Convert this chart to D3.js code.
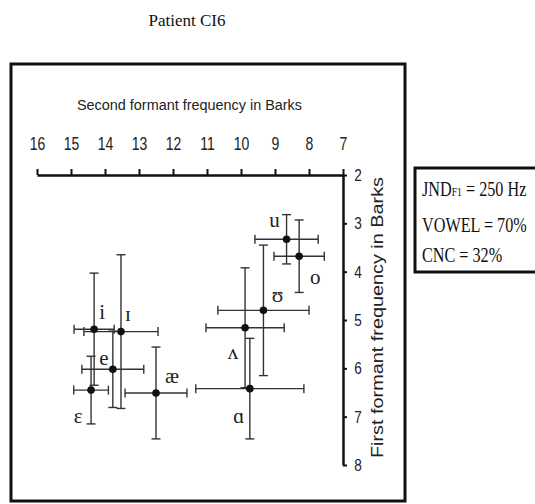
<!DOCTYPE html>
<html lang="en">
<head>
    <meta charset="UTF-8">
    <title>Patient CI6</title>
    <script src="https://d3js.org/d3.v7.min.js"></script>
    <style>
        body {
            margin: 0;
            background: #fff;
        }
        .serif {
            font-family: "Liberation Serif", "DejaVu Serif", serif;
        }
        .sans {
            font-family: "Liberation Sans", Arial, sans-serif;
        }
    </style>
</head>
<body>

<svg id="chart" width="535" height="504"></svg>

<script>
    // vowel symbols and their mean formants (Barks) with error bar half-widths
    const vowels = ["i", "\u026A", "e", "\u025B", "\u00E6", "u", "o", "\u028A", "\u028C", "\u0251"];
    const f2 = [14.32, 13.53, 13.77, 14.41, 12.5, 8.66, 8.29, 9.34, 9.88, 9.74];
    const f2err = [0.59, 1.09, 0.91, 0.51, 0.91, 0.93, 0.74, 1.34, 1.15, 1.59];
    const f1 = [5.19, 5.24, 6.02, 6.45, 6.51, 3.33, 3.68, 4.80, 5.16, 6.42];
    const f1err = [1.16, 1.59, 0.79, 0.70, 0.95, 0.51, 0.75, 1.35, 1.24, 1.04];

    const xTicks = [16, 15, 14, 13, 12, 11, 10, 9, 8, 7];
    const yTicks = [2, 3, 4, 5, 6, 7, 8];

    const legendMain = ["JND", "VOWEL = 70%", "CNC = 32%"];
    const legendSub = ["F1", "", ""];
    const legendRest = [" = 250 Hz", "", ""];

    // label placement relative to each point (px)
    const labelOffset = [[8, -16], [7, -17], [-9, -11], [-13, 27], [16, -16],
                         [-12, -19], [16, 21], [14, -15], [-12, 25], [-11, 28]];

    const data = vowels.map((v, i) => ({
        v: v, x: f2[i], xe: f2err[i], y: f1[i], ye: f1err[i], off: labelOffset[i]
    }));

    const svg = d3.select("#chart");

    const x = d3.scaleLinear().domain([16, 7]).range([37, 343]);
    const y = d3.scaleLinear().domain([2, 8]).range([175, 465]);

    // title
    svg.append("text")
        .attr("class", "serif")
        .attr("x", 187)
        .attr("y", 26)
        .attr("text-anchor", "middle")
        .attr("font-size", "17px")
        .attr("fill", "#111")
        .text("Patient CI6");

    // outer frame
    svg.append("rect")
        .attr("x", 11).attr("y", 64)
        .attr("width", 394).attr("height", 437)
        .attr("fill", "none")
        .attr("stroke", "#111")
        .attr("stroke-width", 3);

    // x axis (top)
    const xAxis = svg.append("g")
        .attr("transform", `translate(0,175)`)
        .call(d3.axisTop(x).tickValues(xTicks).tickSize(6).tickSizeOuter(0).tickFormat(d3.format("d")));
    xAxis.select(".domain").attr("stroke", "#111").attr("stroke-width", 2.5);
    xAxis.selectAll(".tick line").attr("stroke", "#111").attr("stroke-width", 2);
    xAxis.selectAll(".tick text")
        .attr("font-family", "Liberation Sans, Arial, sans-serif")
        .attr("font-size", "18px")
        .attr("fill", "#222")
        .attr("y", 0)
        .attr("dy", 0)
        .attr("transform", "translate(0,-25) scale(0.78,1)");

    // y axis (right)
    const yAxis = svg.append("g")
        .attr("transform", `translate(343,0)`)
        .call(d3.axisRight(y).tickValues(yTicks).tickSize(4).tickSizeOuter(0).tickFormat(d3.format("d")));
    yAxis.select(".domain").attr("stroke", "#111").attr("stroke-width", 2.5);
    yAxis.selectAll(".tick line").attr("stroke", "#111").attr("stroke-width", 2);
    yAxis.selectAll(".tick text")
        .attr("font-family", "Liberation Sans, Arial, sans-serif")
        .attr("font-size", "17px")
        .attr("fill", "#222")
        .attr("x", 0)
        .attr("text-anchor", "middle")
        .attr("transform", "translate(15,0) scale(0.8,1)");

    // axis titles
    svg.append("text")
        .attr("class", "sans")
        .attr("x", 77)
        .attr("y", 110)
        .attr("font-size", "14px")
        .attr("textLength", 225)
        .attr("lengthAdjust", "spacingAndGlyphs")
        .attr("fill", "#222")
        .text("Second formant frequency in Barks");

    svg.append("text")
        .attr("class", "sans")
        .attr("transform", `translate(383,458) rotate(-90)`)
        .attr("font-size", "16.5px")
        .attr("textLength", 281)
        .attr("lengthAdjust", "spacingAndGlyphs")
        .attr("fill", "#222")
        .text("First formant frequency in Barks");

    // error bars
    const cap = 4.5;
    const bars = svg.append("g")
        .attr("stroke", "#333")
        .attr("stroke-width", 1.4)
        .attr("fill", "none");

    data.forEach(d => {
        const cx = x(d.x), cy = y(d.y);
        const x0 = x(d.x + d.xe), x1 = x(d.x - d.xe);
        const y0 = y(d.y - d.ye), y1 = y(d.y + d.ye);
        bars.append("line").attr("x1", x0).attr("x2", x1).attr("y1", cy).attr("y2", cy);
        bars.append("line").attr("x1", x0).attr("x2", x0).attr("y1", cy - cap).attr("y2", cy + cap);
        bars.append("line").attr("x1", x1).attr("x2", x1).attr("y1", cy - cap).attr("y2", cy + cap);
        bars.append("line").attr("x1", cx).attr("x2", cx).attr("y1", y0).attr("y2", y1);
        bars.append("line").attr("x1", cx - cap).attr("x2", cx + cap).attr("y1", y0).attr("y2", y0);
        bars.append("line").attr("x1", cx - cap).attr("x2", cx + cap).attr("y1", y1).attr("y2", y1);
    });

    // points
    svg.selectAll("circle.pt")
        .data(data)
        .enter()
        .append("circle")
        .attr("class", "pt")
        .attr("cx", d => x(d.x))
        .attr("cy", d => y(d.y))
        .attr("r", 3.8)
        .attr("fill", "#111");

    // vowel labels
    svg.selectAll("text.lbl")
        .data(data)
        .enter()
        .append("text")
        .attr("class", "lbl serif")
        .attr("x", d => x(d.x) + d.off[0])
        .attr("y", d => y(d.y) + d.off[1])
        .attr("dy", "0.3em")
        .attr("text-anchor", "middle")
        .attr("font-size", "21px")
        .attr("fill", "#222")
        .text(d => d.v);

    // legend box (runs past the right edge)
    svg.append("rect")
        .attr("x", 415).attr("y", 168)
        .attr("width", 130).attr("height", 104)
        .attr("fill", "none")
        .attr("stroke", "#111")
        .attr("stroke-width", 3);

    // condensed serif lines
    const legendBase = [196, 232, 262];
    legendMain.forEach((m, i) => {
        const t = svg.append("text")
            .attr("class", "serif")
            .attr("transform", `translate(422,${legendBase[i]}) scale(0.81,1)`)
            .attr("font-size", "20px")
            .attr("fill", "#111");
        t.append("tspan").text(m);
        if (legendSub[i]) t.append("tspan").attr("font-size", "12px").text(legendSub[i]);
        if (legendRest[i]) t.append("tspan").text(legendRest[i]);
    });
</script>

</body>
</html>
